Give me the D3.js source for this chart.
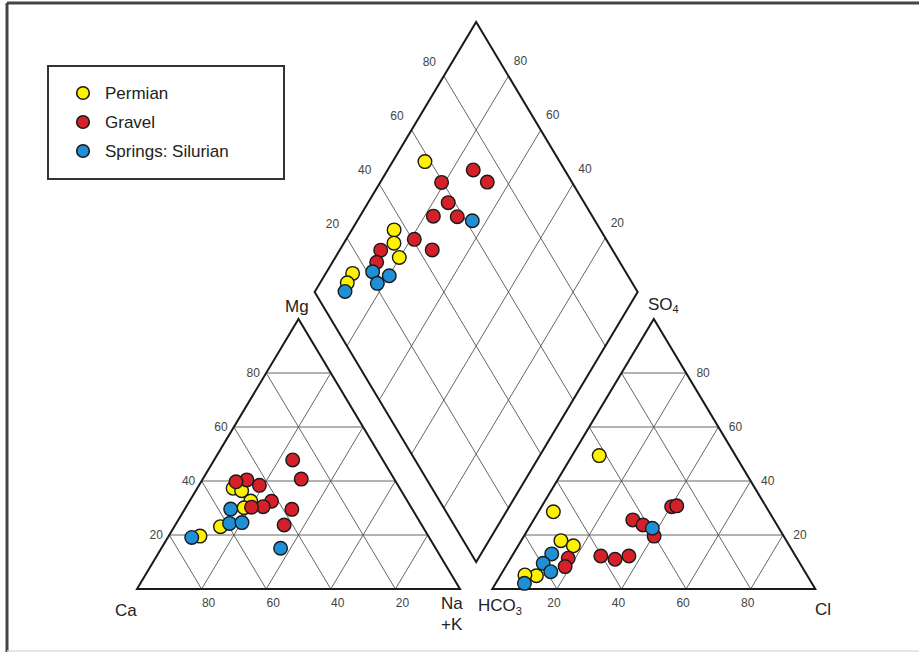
<!DOCTYPE html>
<html><head><meta charset="utf-8">
<script src="https://cdn.jsdelivr.net/npm/d3@7"></script>
<style>
html,body{margin:0;padding:0;background:#fff;}
text{font-family:"Liberation Sans",Arial,sans-serif;}
</style></head>
<body>
<svg id="chart" width="919" height="652"></svg>
<script>
// ---------- data (percent of meq) ----------
const seriesNames = ["Permian", "Gravel", "Springs: Silurian"];
const seriesColors = ["#fff200", "#d5202a", "#1f8fd6"];

// cation triangle: [Ca, Mg]
const permianCation = [[51.6,37.3],[49.4,36.4],[48.5,32.6],[51.8,30.1],[62.6,23.1],[70.7,19.6]];
const gravelCation = [[27.9,47.8],[28.8,40.7],[45.8,40.4],[49.5,39.7],[42.9,38.4],[42.1,32.5],[45.7,30.5],[49.4,30.3],[37.3,29.5],[42.6,23.7]];
const silurianCation = [[56.2,29.6],[59.2,24.3],[55.2,24.6],[73.5,19.1],[48.0,15.1]];

// anion triangle: [Cl, SO4]
const permianAnion = [[8.4,49.4],[4.6,28.6],[12.3,17.9],[17.1,16.0],[11.2,4.9],[7.5,5.2]];
const gravelAnion = [[40.3,30.5],[41.7,30.8],[30.7,25.6],[34.8,23.7],[40.3,19.6],[27.5,12.2],[32.5,11.0],[36.2,12.2],[17.8,11.4],[18.4,8.3]];
const silurianAnion = [[38.3,22.5],[11.9,13.0],[11.0,9.5],[14.9,6.4],[8.9,2.1]];

// diamond: [Ca+Mg, SO4+Cl]
const permianDiamond = [[90.0,58.3],[86.9,36.1],[84.5,33.6],[80.2,32.6],[91.7,15.2],[91.6,11.8]];
const gravelDiamond = [[73.5,71.7],[66.9,73.8],[81.0,59.6],[75.2,57.9],[69.8,58.1],[77.3,50.8],[78.9,40.6],[71.4,44.2],[87.3,28.2],[86.3,24.7]];
const silurianDiamond = [[64.4,62.0],[85.8,21.7],[79.9,26.1],[82.2,21.0],[90.7,9.5]];

const gridTicks = [20, 40, 60, 80];

// ---------- geometry ----------
const H = 86.6025; // triangle height in ideal units (side 100)
const gap = 10;
const x = d3.scaleLinear().domain([0, 210]).range([137, 815.3]);
const y = d3.scaleLinear().domain([0, 181.87]).range([589, 22]);

const svg = d3.select("#chart");

// frame
svg.append("line").attr("x1",7).attr("y1",3).attr("x2",919).attr("y2",3).attr("stroke","#444").attr("stroke-width",3);
svg.append("line").attr("x1",7).attr("y1",3).attr("x2",7).attr("y2",652).attr("stroke","#444").attr("stroke-width",3);
svg.append("line").attr("x1",7).attr("y1",651).attr("x2",919).attr("y2",651).attr("stroke","#ddd").attr("stroke-width",1.5);

// ternary helpers
const catOrigin = 0, anOrigin = 100 + gap;
function cationPt(ca, mg) { // left: Ca, right: Na+K, top: Mg
  const nak = 100 - ca - mg;
  return [catOrigin + nak + mg/2, mg/100*H];
}
function anionPt(cl, so4) { // left: HCO3, right: Cl, top: SO4
  return [anOrigin + cl + so4/2, so4/100*H];
}
const B = [100 + gap/2, gap/2*Math.sqrt(3)];
function diamondPt(camg, so4cl) {
  const c = camg/100, s = so4cl/100;
  return [B[0] + 50*(s - c), B[1] + H*(c + s)];
}
const line = d3.line().x(d => x(d[0])).y(d => y(d[1]));

const gGrid = svg.append("g");
const gridStyle = sel => sel.attr("fill","none").attr("stroke","#555").attr("stroke-width",0.9);
const edgeStyle = sel => sel.attr("fill","none").attr("stroke","#1a1a1a").attr("stroke-width",2).attr("stroke-linejoin","miter");

// grids
gridTicks.forEach(k => {
  const f = 100 - k;
  const catLines = [
    [cationPt(f,k), cationPt(0,k)],      // const Mg
    [cationPt(k,0), cationPt(k,f)],      // const Ca
    [cationPt(f,0), cationPt(0,f)]       // const Na+K = k
  ];
  const anLines = [
    [anionPt(0,k), anionPt(f,k)],        // const SO4
    [anionPt(k,0), anionPt(k,f)],        // const Cl
    [anionPt(0,f), anionPt(f,0)]         // const HCO3 = k
  ];
  const dLines = [
    [diamondPt(0,k), diamondPt(100,k)],
    [diamondPt(k,0), diamondPt(k,100)]
  ];
  catLines.concat(anLines, dLines).forEach(l => gGrid.append("path").attr("d", line(l)).call(gridStyle));
});

// outlines
svg.append("path").attr("d", line([cationPt(100,0), cationPt(0,0), cationPt(0,100)]) + "Z").call(edgeStyle);
svg.append("path").attr("d", line([anionPt(0,0), anionPt(100,0), anionPt(0,100)]) + "Z").call(edgeStyle);
svg.append("path").attr("d", line([diamondPt(0,0), diamondPt(100,0), diamondPt(100,100), diamondPt(0,100)]) + "Z").call(edgeStyle);

// tick labels
const gLab = svg.append("g").attr("font-size", 12).attr("fill", "#444").attr("text-anchor","middle");
function tl(px, py, t) { gLab.append("text").attr("x", px).attr("y", py + 4).text(t); }
gridTicks.forEach(k => {
  let p = cationPt(100-k, k);        tl(x(p[0]) - 13, y(p[1]), k);      // Mg on left edge
  p = cationPt(k, 0);                tl(x(p[0]) + 7, 603, k);           // Ca at base
  p = anionPt(100-k, k);             tl(x(p[0]) + 17, y(p[1]), k);      // SO4 on right edge
  p = anionPt(k, 0);                 tl(x(p[0]) - 3, 603, k);           // Cl at base
  p = diamondPt(100, k);             tl(x(p[0]) - 14.5, y(p[1]) - 14.5, k); // SO4+Cl
  p = diamondPt(k, 100);             tl(x(p[0]) + 12, y(p[1]) - 15, k);   // Ca+Mg
});

// axis labels
const gAx = svg.append("g").attr("font-size", 17).attr("fill", "#222");
gAx.append("text").attr("x", 285).attr("y", 312).text("Mg");
gAx.append("text").attr("x", 115).attr("y", 616).text("Ca");
gAx.append("text").attr("x", 441).attr("y", 609).text("Na");
gAx.append("text").attr("x", 441).attr("y", 630).text("+K");
const hco = gAx.append("text").attr("x", 478).attr("y", 611);
hco.append("tspan").text("HCO");
hco.append("tspan").attr("font-size", 11).attr("dy", 4).text("3");
const so = gAx.append("text").attr("x", 648).attr("y", 310);
so.append("tspan").text("SO");
so.append("tspan").attr("font-size", 11).attr("dy", 3).text("4");
gAx.append("text").attr("x", 815).attr("y", 615).text("Cl");

// points
const cationSets = [permianCation, gravelCation, silurianCation];
const anionSets = [permianAnion, gravelAnion, silurianAnion];
const diamondSets = [permianDiamond, gravelDiamond, silurianDiamond];
const gPts = svg.append("g");
function drawPts(sets, proj) {
  sets.forEach((arr, i) => {
    gPts.selectAll(null).data(arr).enter().append("circle")
      .attr("cx", d => x(proj(d[0], d[1])[0]))
      .attr("cy", d => y(proj(d[0], d[1])[1]))
      .attr("r", 6.8)
      .attr("fill", seriesColors[i])
      .attr("stroke", "#1a1a1a").attr("stroke-width", 1.4);
  });
}
drawPts(cationSets, cationPt);
drawPts(anionSets, anionPt);
drawPts(diamondSets, diamondPt);

// legend
const lg = svg.append("g");
lg.append("rect").attr("x", 48).attr("y", 66).attr("width", 236).attr("height", 113)
  .attr("fill", "#fff").attr("stroke", "#333").attr("stroke-width", 2);
seriesNames.forEach((n, i) => {
  const cy = 93 + i * 29;
  lg.append("circle").attr("cx", 83).attr("cy", cy).attr("r", 6.3)
    .attr("fill", seriesColors[i]).attr("stroke", "#1a1a1a").attr("stroke-width", 1.6);
  lg.append("text").attr("x", 105).attr("y", cy + 6).attr("font-size", 17).attr("fill", "#222").text(n);
});
</script>
</body></html>
